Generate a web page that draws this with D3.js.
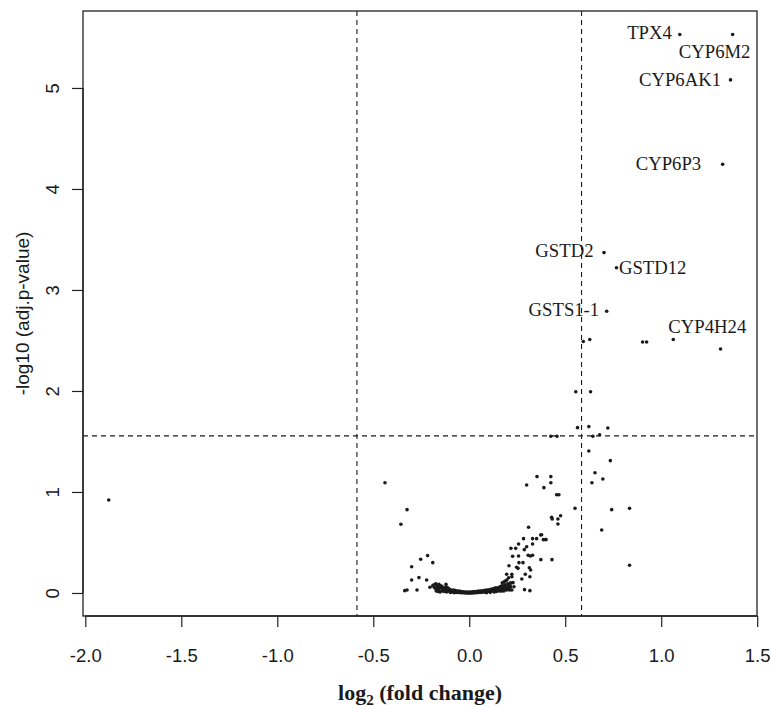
<!DOCTYPE html>
<html>
<head>
<meta charset="utf-8">
<script src="https://cdn.jsdelivr.net/npm/d3@7/dist/d3.min.js"></script>
<style>
  html, body { margin: 0; padding: 0; background: #fff; }
  svg { display: block; }
</style>
</head>
<body>
<svg id="chart" width="771" height="709"></svg>
<script>
// ---------------- DATA ----------------
const xTicks = [-2.0, -1.5, -1.0, -0.5, 0.0, 0.5, 1.0, 1.5];
const yTicks = [0, 1, 2, 3, 4, 5];
const foldThreshold = 0.585;   // log2(1.5)
const pThreshold = 1.555;      // -log10 adj.p threshold

// labelled genes: [log2FC, -log10 adj.p]
const geneNames = ["TPX4", "CYP6M2", "CYP6AK1", "CYP6P3", "GSTD2", "GSTD12", "GSTS1-1", "CYP4H24"];
const geneFC    = [1.097, 1.372, 1.361, 1.320, 0.702, 0.767, 0.716, 1.063];
const geneP     = [5.53, 5.53, 5.08, 4.245, 3.37, 3.22, 2.79, 2.51];

// other genes: [log2FC, -log10 adj.p]
const otherPoints = [
  [0.594,2.49],[0.628,2.51],[0.903,2.485],[0.924,2.485],[1.309,2.416],
  [0.555,1.993],[0.632,1.993],
  [0.564,1.637],[0.623,1.647],[0.722,1.634],[0.425,1.551],[0.457,1.551],[0.644,1.551],[0.679,1.567],
  [0.623,1.406],[0.735,1.31],[0.655,1.19],[0.696,1.129],[0.639,1.092],
  [0.425,1.152],[0.425,1.092],[0.389,1.043],[0.455,0.973],[0.467,0.973],
  [0.551,0.838],[0.742,0.825],[0.835,0.838],
  [0.429,0.749],[0.432,0.733],[0.462,0.733],[0.476,0.765],[0.462,0.683],
  [0.69,0.624],[0.377,0.577],[0.386,0.528],[0.398,0.528],[0.373,0.33],[0.431,0.33],[0.835,0.274],
  [-0.439,1.092],[-0.324,0.825],[-0.356,0.68],[0.353,1.152],[0.299,1.069],
  [0.309,0.65],[0.372,0.574],[0.283,0.538],[0.33,0.538],[0.351,0.538],[0.4,0.53],
  [0.257,0.485],[0.33,0.485],[0.217,0.442],[0.242,0.442],[0.287,0.429],[0.299,0.458],
  [0.226,0.363],[0.257,0.366],[0.307,0.373],[0.318,0.366],[0.33,0.373],
  [0.259,0.3],[0.28,0.3],[0.207,0.27],[0.247,0.254],[0.254,0.244],[0.313,0.25],[0.32,0.228],
  [0.195,0.185],[0.222,0.185],[0.222,0.161],[0.292,0.185],[0.316,0.161],[0.274,0.139],[0.196,0.129],
  [0.228,0.102],[0.233,0.062],[0.222,0.03],[0.288,0.033],[0.316,0.023],[0.169,0.062],[0.177,0.04],
  [-0.3,0.26],[-0.253,0.334],[-0.217,0.37],[-0.19,0.3],[-0.3,0.129],[-0.262,0.152],[-0.222,0.129],
  [-0.336,0.023],[-0.324,0.03],[-0.272,0.03],[-0.205,0.056],[-0.187,0.079],[-0.173,0.086],[-0.121,0.086],
  [-1.878,0.921],
  // dense cluster near zero (lower row)
  [-0.19,0.07],[-0.18,0.05],[-0.175,0.09],[-0.17,0.04],[-0.165,0.06],[-0.16,0.03],[-0.155,0.05],
  [-0.15,0.07],[-0.145,0.02],[-0.14,0.04],[-0.135,0.03],[-0.13,0.05],[-0.125,0.02],[-0.12,0.06],
  [-0.115,0.03],[-0.11,0.02],[-0.105,0.04],[-0.1,0.015],[-0.095,0.03],[-0.09,0.01],[-0.085,0.02],
  [-0.08,0.01],[-0.075,0.015],[-0.07,0.01],[-0.065,0.005],[-0.06,0.01],[-0.055,0.005],[-0.05,0.008],
  [-0.045,0.003],[-0.04,0.006],[-0.035,0.002],[-0.03,0.004],[-0.025,0.001],[-0.02,0.003],[-0.015,0.001],
  [-0.01,0.002],[-0.005,0.0],[0.0,0.001],[0.005,0.0],[0.01,0.002],[0.015,0.001],[0.02,0.003],
  [0.025,0.002],[0.03,0.004],[0.035,0.003],[0.04,0.005],[0.045,0.004],[0.05,0.006],[0.055,0.008],
  [0.06,0.007],[0.065,0.01],[0.07,0.009],[0.075,0.012],[0.08,0.01],[0.085,0.015],[0.09,0.012],
  [0.095,0.018],[0.1,0.015],[0.105,0.02],[0.11,0.025],[0.115,0.018],[0.12,0.03],[0.125,0.022],
  [0.13,0.035],[0.135,0.028],[0.14,0.04],[0.145,0.03],[0.15,0.05],[0.155,0.035],[0.16,0.06],
  [0.165,0.04],[0.17,0.07],[0.175,0.045],[0.18,0.03],[0.185,0.08],[0.19,0.05],[0.2,0.04],
  [0.205,0.07],[0.21,0.03],[0.215,0.06],[0.19,0.12],[0.2,0.09],[0.205,0.15],[0.215,0.1],
  [0.18,0.02],[0.195,0.03],[-0.168,0.075],[-0.158,0.085],[-0.148,0.06],[0.16,0.02],[0.14,0.015],
  // dense cluster near zero (upper row)
  [-0.172,0.02],[-0.162,0.015],[-0.152,0.01],[-0.142,0.065],[-0.132,0.015],[-0.122,0.04],
  [-0.112,0.05],[-0.102,0.035],[-0.092,0.025],[-0.082,0.03],[-0.072,0.025],[-0.062,0.02],
  [-0.052,0.018],[-0.042,0.015],[-0.032,0.012],[-0.022,0.01],[-0.012,0.01],[-0.002,0.008],
  [0.008,0.01],[0.018,0.012],[0.028,0.014],[0.038,0.015],[0.048,0.018],[0.058,0.02],
  [0.068,0.022],[0.078,0.025],[0.088,0.028],[0.098,0.03],[0.108,0.035],[0.118,0.04],
  [0.128,0.045],[0.138,0.05],[0.148,0.02],[0.158,0.045],[0.168,0.02],[0.178,0.06],
  [0.188,0.035],[0.198,0.06],[0.208,0.045],[0.212,0.08],[0.172,0.1],[0.182,0.11],
  [-0.118,0.01],[-0.098,0.005],[-0.078,0.003],[0.09,0.002],[0.11,0.006],[0.13,0.01]
];

// ---------------- LAYOUT ----------------
const plot = { left: 83, right: 757, top: 11, bottom: 616 };
const svg = d3.select("#chart");

const x = d3.scaleLinear().domain([-2.012, 1.499]).range([plot.left, plot.right]);
const y = d3.scaleLinear().domain([-0.228, 5.762]).range([plot.bottom, plot.top]);

const sans = "'Liberation Sans', Arial, Helvetica, sans-serif";
const serif = "'Liberation Serif', 'Times New Roman', Times, serif";
const ink = "#1a1a1a";

// label offsets (pixels) relative to the point
const labelLayout = {
  "TPX4":    { anchor: "end",    dx: -8,  dy: 5 },
  "CYP6M2":  { anchor: "middle", dx: -18, dy: 23.5 },
  "CYP6AK1": { anchor: "end",    dx: -9.5, dy: 6 },
  "CYP6P3":  { anchor: "end",    dx: -21.5, dy: 6 },
  "GSTD2":   { anchor: "end",    dx: -10.5, dy: 4.5 },
  "GSTD12":  { anchor: "start",  dx: 2.5, dy: 6 },
  "GSTS1-1": { anchor: "end",    dx: -7.5, dy: 5 },
  "CYP4H24": { anchor: "middle", dx: 34,  dy: -6.5 }
};

// ---------------- THRESHOLD LINES ----------------
const dash = "5,4";
[-foldThreshold, foldThreshold].forEach(v => {
  svg.append("line")
    .attr("x1", x(v)).attr("x2", x(v))
    .attr("y1", plot.top).attr("y2", plot.bottom)
    .attr("stroke", ink).attr("stroke-width", 1.1)
    .attr("stroke-dasharray", dash);
});
svg.append("line")
  .attr("x1", plot.left).attr("x2", plot.right)
  .attr("y1", y(pThreshold)).attr("y2", y(pThreshold))
  .attr("stroke", ink).attr("stroke-width", 1.1)
  .attr("stroke-dasharray", dash);

// ---------------- POINTS ----------------
const genes = geneNames.map((g, i) => ({ name: g, fc: geneFC[i], p: geneP[i] }));
const allPts = otherPoints.map(d => ({ fc: d[0], p: d[1] })).concat(genes);

svg.append("g").selectAll("circle")
  .data(allPts).join("circle")
  .attr("cx", d => x(d.fc))
  .attr("cy", d => y(d.p))
  .attr("r", 1.8)
  .attr("fill", ink);

// ---------------- GENE LABELS ----------------
svg.append("g").selectAll("text")
  .data(genes).join("text")
  .attr("x", d => x(d.fc) + labelLayout[d.name].dx)
  .attr("y", d => y(d.p) + labelLayout[d.name].dy)
  .attr("text-anchor", d => labelLayout[d.name].anchor)
  .attr("font-family", serif)
  .attr("font-size", 18.7)
  .attr("fill", ink)
  .text(d => d.name);

// ---------------- BOX ----------------
svg.append("rect")
  .attr("x", plot.left).attr("y", plot.top)
  .attr("width", plot.right - plot.left).attr("height", plot.bottom - plot.top)
  .attr("fill", "none").attr("stroke", "#222").attr("stroke-width", 1.3);

// ---------------- AXES ----------------
const xAxis = d3.axisBottom(x).tickValues(xTicks).tickSize(11).tickFormat(d => d.toFixed(1));
const gx = svg.append("g").attr("transform", `translate(0,${plot.bottom})`).call(xAxis);
gx.select(".domain").attr("stroke", "#222").attr("stroke-width", 1.3)
  .attr("d", `M${x(xTicks[0])},0H${x(xTicks[xTicks.length-1])}`);
gx.selectAll(".tick line").attr("stroke", "#222").attr("stroke-width", 1.2);
gx.selectAll(".tick text")
  .attr("y", 46).attr("dy", null)
  .attr("font-family", sans).attr("font-size", 18.5).attr("fill", ink);

const yAxis = d3.axisLeft(y).tickValues(yTicks).tickSize(11).tickFormat(d => String(d));
const gy = svg.append("g").attr("transform", `translate(${plot.left},0)`).call(yAxis);
gy.select(".domain").attr("stroke", "#222").attr("stroke-width", 1.3)
  .attr("d", `M0,${y(yTicks[0])}V${y(yTicks[yTicks.length-1])}`);
gy.selectAll(".tick line").attr("stroke", "#222").attr("stroke-width", 1.2);
gy.selectAll(".tick text")
  .attr("x", null).attr("dy", null).attr("y", null)
  .attr("text-anchor", "middle")
  .attr("transform", "translate(-24,0) rotate(-90)")
  .attr("font-family", sans).attr("font-size", 18.5).attr("fill", ink);

// ---------------- AXIS TITLES ----------------
const xt = svg.append("text")
  .attr("x", (plot.left + plot.right) / 2)
  .attr("y", 700)
  .attr("text-anchor", "middle")
  .attr("font-family", serif)
  .attr("font-weight", "bold")
  .attr("font-size", 22)
  .attr("fill", ink);
xt.append("tspan").text("log");
xt.append("tspan").attr("font-size", 15).attr("dy", 5).text("2");
xt.append("tspan").attr("dy", -5).text(" (fold change)");

svg.append("text")
  .attr("transform", `translate(29,${(plot.top + plot.bottom) / 2}) rotate(-90)`)
  .attr("text-anchor", "middle")
  .attr("font-family", sans)
  .attr("font-size", 19)
  .attr("fill", ink)
  .text("-log10 (adj.p-value)");
</script>
</body>
</html>
